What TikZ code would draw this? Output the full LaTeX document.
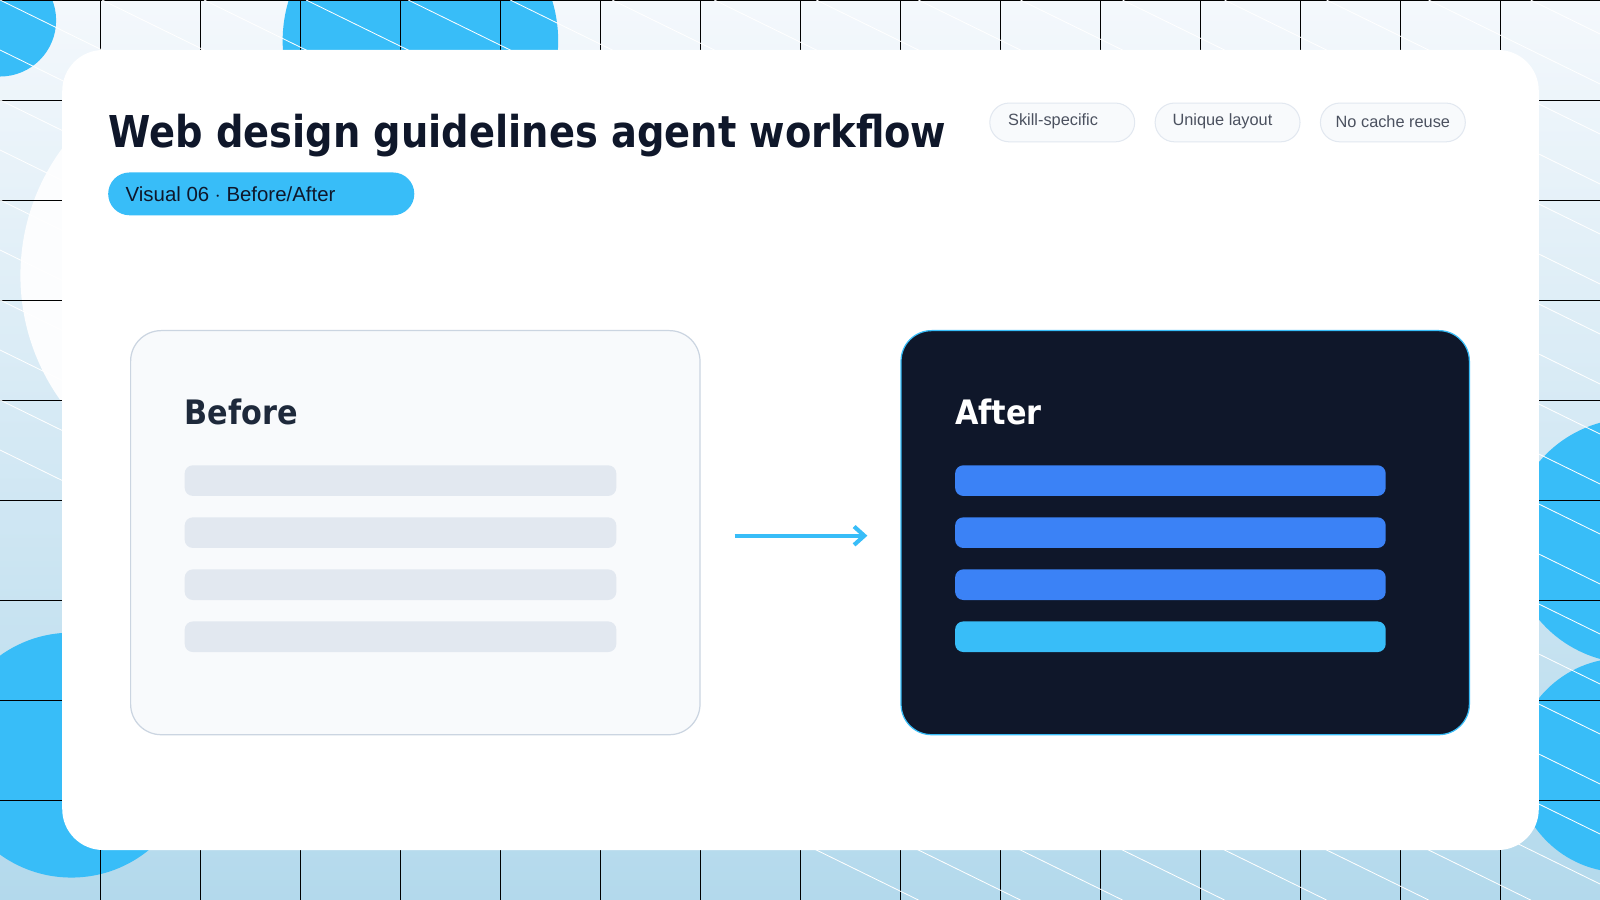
\documentclass[tikz,border=0pt]{standalone}
\usepackage{fontspec}
\usetikzlibrary{arrows.meta}
\setmainfont{Liberation Sans}
\newfontfamily\titlefont{DejaVu Sans}
\definecolor{sky}{HTML}{38BDF8}
\definecolor{blu}{HTML}{3B82F6}
\definecolor{navy}{HTML}{0F172A}
\definecolor{slate}{HTML}{F8FAFC}
\definecolor{barg}{HTML}{E2E8F0}
\definecolor{edgeg}{HTML}{CBD5E1}
\definecolor{ink}{HTML}{0F172A}
\definecolor{darkslate}{HTML}{1E293B}
\definecolor{bgtop}{HTML}{F4F8FC}
\definecolor{bgbot}{HTML}{B3D9EC}
\tikzset{
 card/.style={rounded corners=30pt,line width=1.2pt},
 bar/.style={rounded corners=8pt},
 tag/.style={rounded corners=19pt,fill=slate,draw=barg,line width=1pt},
 tagtext/.style={font=\fontsize{16}{18}\selectfont,text=ink!75,anchor=center},
}
\begin{document}
\begin{tikzpicture}[x=1pt,y=-1pt]
\useasboundingbox (0,0) rectangle (1568,882);
\shade[top color=bgtop,bottom color=bgbot] (0,0) rectangle (1568,882);
\begin{scope}
\clip (0,0) rectangle (1568,882);
\fill[white!70!bgtop] (230,270) circle (210);
\fill[sky] (412,40) circle (135);
\fill[sky] (0,20) circle (55);
\fill[sky] (1600,530) circle (120);
\fill[sky] (1590,750) circle (105);
\fill[sky] (70,740) circle (120);
\foreach \x in {98,196,...,1568} \draw[black,line width=0.6pt] (\x,0) -- (\x,882);
\foreach \y in {0,98,...,882} \draw[black,line width=0.6pt] (0,\y) -- (1568,\y);
\foreach \s in {-900,-800,...,1600} \draw[white,line width=0.8pt] (\s,0) -- (\s+1800,882);
\end{scope}
\fill[white,rounded corners=40pt] (61,49) rectangle (1508,833);
\node[anchor=base west,inner sep=0,font=\titlefont\bfseries\fontsize{43}{46}\selectfont,text=ink] (title) at (106,145) {\scalebox{0.875}[1]{Web design guidelines agent workflow}};
\fill[sky,rounded corners=21pt] (106,169) rectangle (406,211);
\node[anchor=west,inner sep=0,font=\fontsize{20}{22}\selectfont,text=ink] (pill) at (123,190) {Visual 06 $\cdot$ Before/After};
\draw[tag] (970,101) rectangle (1112,139); \node[tagtext] (t1) at (1032,119) {Skill-specific};
\draw[tag] (1132,101) rectangle (1274,139); \node[tagtext] (t2) at (1198,119) {Unique layout};
\draw[tag] (1294,101) rectangle (1436,139); \node[tagtext] (t3) at (1365,119) {No cache reuse};
\draw[card,fill=slate,draw=edgeg] (128,324) rectangle (686,720);
\node[anchor=west,inner sep=0,font=\titlefont\bfseries\fontsize{33}{36}\selectfont,text=darkslate] (before) at (181,404) {\scalebox{0.9}[1]{Before}};
\foreach \y in {456,507,558,609} \fill[bar,barg] (181,\y) rectangle (604,\y+30);
\draw[card,fill=navy,draw=sky] (883,324) rectangle (1440,720);
\node[anchor=west,inner sep=0,font=\titlefont\bfseries\fontsize{33}{36}\selectfont,text=white] (after) at (936,404) {\scalebox{0.9}[1]{After}};
\foreach \y in {456,507,558} \fill[bar,blu] (936,\y) rectangle (1358,\y+30);
\fill[bar,sky] (936,609) rectangle (1358,639);
\coordinate (a1) at (720,525); \coordinate (a2) at (850,525);
\draw[sky,line width=4pt,-{Straight Barb[length=10pt,width=18pt]}] (a1) -- (a2);
\end{tikzpicture}
\end{document}
